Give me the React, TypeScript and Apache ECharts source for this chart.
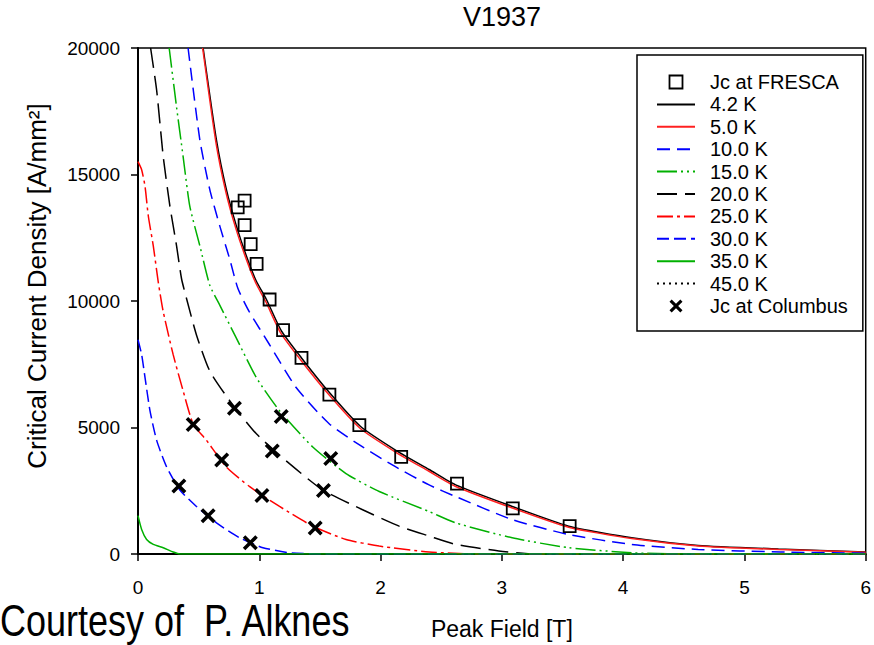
import React, { useEffect, useRef } from "react";
import * as echarts from "echarts";

const FONT = "'Liberation Sans', Arial, sans-serif";

const chartTitle = "V1937";
const xAxisName = "Peak Field [T]";
const yAxisName = "Critical Current Density [A/mm²]";
const courtesyText = "Courtesy of  P. Alknes";

const xTickMin = 0;
const xTickMax = 6;
const xTickStep = 1;
const yTickMin = 0;
const yTickMax = 20000;
const yTickStep = 5000;

const seriesNames = [
  "Jc at FRESCA",
  "4.2 K",
  "5.0 K",
  "10.0 K",
  "15.0 K",
  "20.0 K",
  "25.0 K",
  "30.0 K",
  "35.0 K",
  "45.0 K",
  "Jc at Columbus",
];

// [Peak field T, Jc A/mm2]
const frescaPoints: [number, number][] = [
  [0.822, 13700], [0.879, 13970], [0.879, 13000], [0.929, 12250], [0.978, 11470],
  [1.085, 10060], [1.196, 8850], [1.348, 7750], [1.578, 6300], [1.825, 5090],
  [2.170, 3840], [2.630, 2780], [3.090, 1800], [3.559, 1100],
];

const columbusPoints: [number, number][] = [
  [0.337, 2690], [0.455, 5120], [0.578, 1515], [0.690, 3720], [0.795, 5765],
  [0.926, 440], [1.022, 2310], [1.107, 4070], [1.181, 5430], [1.461, 1030],
  [1.529, 2505], [1.589, 3770],
];

const curve4K2: [number, number][] = [
  [0.537, 20000], [0.647, 16360], [0.729, 14400], [0.811, 12970], [0.893, 11790],
  [0.974, 10800], [1.058, 10070], [1.181, 8830], [1.348, 7750], [1.578, 6380],
  [1.833, 5050], [2.126, 4100], [2.400, 3340], [2.619, 2730], [3.085, 1880],
  [3.551, 1100], [4.071, 640], [4.619, 340], [5.28, 200], [6.0, 80],
];

const curve5K0: [number, number][] = [
  [0.533, 20000], [0.643, 16250], [0.725, 14300], [0.806, 12880], [0.889, 11700],
  [0.970, 10720], [1.053, 9980], [1.176, 8740], [1.343, 7660], [1.573, 6300],
  [1.828, 4980], [2.120, 4040], [2.395, 3280], [2.615, 2680], [3.080, 1830],
  [3.550, 1060], [4.070, 610], [4.620, 320], [5.28, 180], [6.0, 70],
];

const curve10K: [number, number][] = [
  [0.413, 20000], [0.510, 16360], [0.592, 14400], [0.674, 12970], [0.756, 11660],
  [0.824, 10490], [0.917, 9580], [1.085, 8270], [1.304, 6580], [1.578, 5140],
  [1.852, 4230], [2.126, 3440], [2.400, 2730], [2.619, 2270], [3.085, 1360],
  [3.551, 770], [4.071, 380], [4.619, 180], [5.30, 80], [6.0, 30],
];

const curve15K: [number, number][] = [
  [0.257, 20000], [0.318, 17660], [0.372, 15710], [0.427, 13750], [0.510, 12180],
  [0.592, 10620], [0.674, 9840], [0.811, 8530], [0.976, 6970], [1.167, 5660],
  [1.441, 4230], [1.715, 3180], [1.989, 2470], [2.400, 1680], [2.619, 1230],
  [3.085, 640], [3.551, 250], [4.071, 50], [4.50, 0], [6.0, 0],
];

const curve20K: [number, number][] = [
  [0.104, 20000], [0.154, 18320], [0.208, 15710], [0.263, 13750], [0.318, 12180],
  [0.359, 10880], [0.400, 10100], [0.482, 8660], [0.592, 7230], [0.756, 6060],
  [0.976, 4750], [1.249, 3570], [1.523, 2530], [1.852, 1750], [2.153, 1100],
  [2.400, 710], [2.619, 380], [2.975, 120], [3.30, 0], [6.0, 0],
];

const curve25K: [number, number][] = [
  [0.0, 15510], [0.030, 15190], [0.058, 14530], [0.085, 13360], [0.126, 12180],
  [0.167, 10750], [0.208, 9580], [0.290, 7880], [0.372, 6450], [0.455, 5140],
  [0.565, 4490], [0.729, 3440], [0.921, 2660], [1.167, 1880], [1.441, 1100],
  [1.715, 575], [1.989, 313], [2.400, 80], [2.80, 0], [6.0, 0],
];

const curve30K: [number, number][] = [
  [0.0, 8470], [0.030, 7880], [0.058, 6970], [0.099, 5660], [0.154, 4490],
  [0.236, 3440], [0.345, 2530], [0.482, 1880], [0.647, 1230], [0.838, 640],
  [1.030, 250], [1.249, 50], [1.50, 0], [6.0, 0],
];

const curve35K: [number, number][] = [
  [0.0, 1515], [0.030, 970], [0.071, 575], [0.126, 380], [0.208, 250],
  [0.290, 80], [0.345, 0], [6.0, 0],
];

const curve45K: [number, number][] = [
  [0.0, 0], [6.0, 0],
];

const X_SYMBOL =
  "path://M0,2L2,0L6,4L10,0L12,2L8,6L12,10L10,12L6,8L2,12L0,10L4,6Z";
const SQUARE_ICON = "path://M0,0L10,0L10,10L0,10Z";

function lineSeries(
  name: string,
  data: [number, number][],
  color: string,
  type: any,
  width = 1.5
) {
  return {
    type: "line",
    name,
    data,
    symbol: "none",
    showSymbol: false,
    smooth: 0.2,
    clip: true,
    lineStyle: { color, width, type, opacity: 1 },
    itemStyle: { color },
    z: 3,
  };
}

export default function App() {
  const ref = useRef<HTMLDivElement>(null);

  useEffect(() => {
    document.body.style.margin = "0";
    if (!ref.current) return;
    const chart = echarts.init(ref.current, undefined, { renderer: "svg" });

    const option: any = {
      animation: false,
      backgroundColor: "#fff",
      textStyle: { fontFamily: FONT, color: "#000" },
      title: {
        text: chartTitle,
        left: 463,
        top: 3,
        padding: 0,
        textStyle: {
          fontSize: 27,
          fontWeight: "normal",
          color: "#000",
          fontFamily: FONT,
        },
      },
      grid: {
        left: 138,
        top: 48,
        right: 6,
        bottom: 87,
        show: true,
        borderColor: "#000",
        borderWidth: 1.5,
        backgroundColor: "transparent",
      },
      legend: {
        orient: "vertical",
        left: 637,
        top: 55,
        padding: [17, 15, 15, 19],
        itemWidth: 38,
        itemHeight: 13,
        itemGap: 2.4,
        borderColor: "#000",
        borderWidth: 1.5,
        backgroundColor: "#fff",
        selectedMode: false,
        textStyle: {
          fontSize: 20,
          color: "#000",
          fontFamily: FONT,
          padding: [0, 0, 0, 10],
        },
        data: seriesNames.map((n) => {
          if (n === "Jc at FRESCA") {
            return {
              name: n,
              icon: SQUARE_ICON,
              itemStyle: {
                color: "rgba(0,0,0,0)",
                borderColor: "#000",
                borderWidth: 1.8,
                opacity: 1,
              },
            };
          }
          if (n === "Jc at Columbus") {
            return { name: n, itemStyle: { color: "#000", opacity: 1 } };
          }
          return {
            name: n,
            itemStyle: {
              color: "rgba(0,0,0,0)",
              borderColor: "rgba(0,0,0,0)",
              borderWidth: 0,
            },
          };
        }),
      },
      xAxis: {
        type: "value",
        min: xTickMin,
        max: xTickMax,
        interval: xTickStep,
        name: xAxisName,
        nameLocation: "middle",
        nameGap: 63,
        nameTextStyle: { fontSize: 23, color: "#000", fontFamily: FONT },
        axisLine: { show: true, lineStyle: { color: "#000", width: 2 } },
        axisTick: { show: true, length: 7, lineStyle: { color: "#000", width: 1.5 } },
        splitLine: { show: false },
        axisLabel: { fontSize: 19, color: "#000", margin: 24, fontFamily: FONT },
      },
      yAxis: {
        type: "value",
        min: yTickMin,
        max: yTickMax,
        interval: yTickStep,
        name: yAxisName,
        nameLocation: "middle",
        nameGap: 88,
        nameTextStyle: {
          fontSize: 26,
          color: "#000",
          fontFamily: FONT,
          padding: [0, 0, 0, 30],
        },
        axisLine: { show: true, lineStyle: { color: "#000", width: 2 } },
        axisTick: { show: true, length: 7, lineStyle: { color: "#000", width: 1.5 } },
        splitLine: { show: false },
        axisLabel: {
          fontSize: 19,
          color: "#000",
          margin: 18,
          fontFamily: FONT,
          formatter: (v: number) => String(v),
        },
      },
      graphic: [
        {
          type: "text",
          x: 0,
          y: 621,
          scaleX: 0.8,
          style: {
            text: courtesyText,
            fontSize: 45,
            fontFamily: FONT,
            fill: "#000",
            align: "left",
            verticalAlign: "middle",
          },
        },
      ],
      series: [
        {
          type: "scatter",
          name: seriesNames[0],
          data: frescaPoints,
          symbol: "rect",
          symbolSize: 12,
          itemStyle: {
            color: "rgba(0,0,0,0)",
            borderColor: "#000",
            borderWidth: 1.8,
            opacity: 1,
          },
          z: 5,
        },
        lineSeries(seriesNames[9], curve45K, "#000000", [2, 4], 1.5),
        lineSeries(seriesNames[1], curve4K2, "#000000", "solid", 1.5),
        lineSeries(seriesNames[2], curve5K0, "#ff2020", "solid", 1.5),
        lineSeries(seriesNames[3], curve10K, "#0000ff", [13, 7], 1.5),
        lineSeries(seriesNames[4], curve15K, "#00b000", [20, 4, 2, 4, 2, 4], 1.5),
        lineSeries(seriesNames[5], curve20K, "#000000", [20, 8], 1.5),
        lineSeries(seriesNames[6], curve25K, "#ff0000", [16, 4, 3, 4], 1.5),
        lineSeries(seriesNames[7], curve30K, "#0000ff", [12, 5], 1.5),
        lineSeries(seriesNames[8], curve35K, "#00b000", "solid", 1.5),
        {
          type: "scatter",
          name: seriesNames[10],
          data: columbusPoints,
          symbol: X_SYMBOL,
          symbolSize: 15,
          itemStyle: { color: "#000", opacity: 1 },
          z: 6,
        },
      ],
    };

    chart.setOption(option);
    return () => {
      chart.dispose();
    };
  }, []);

  return <div ref={ref} style={{ width: 874, height: 645 }} />;
}
